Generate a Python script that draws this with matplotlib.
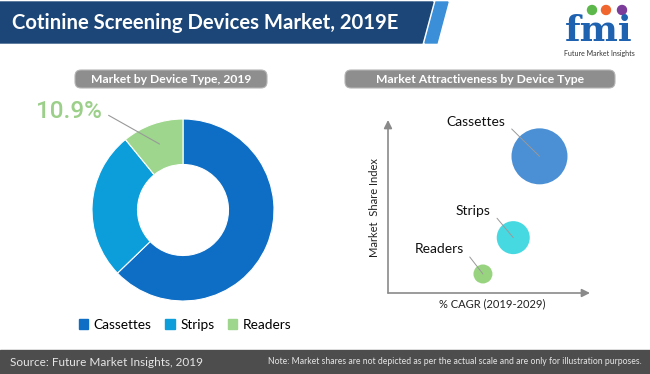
import matplotlib
matplotlib.use('Agg')
import matplotlib.pyplot as plt
from matplotlib.patches import Polygon, Rectangle, FancyBboxPatch, Circle
import numpy as np

# data
devices = ['Cassettes', 'Strips', 'Readers']
share_2019 = [62.8, 26.3, 10.9]
cagr_score = [7.5, 6.2, 4.7]      # relative position on % CAGR axis
share_index = [7.9, 3.2, 1.1]     # relative position on market share index axis
bubble_area = [1625, 565, 187]

pie_colors = ['#0e6ec5', '#0b9edb', '#9dd68c']
bubble_colors = ['#4b8fd5', '#47d9e2', '#98d480']

W, H = 650, 374
plt.rcParams['font.family'] = ['Lato', 'DejaVu Sans']

fig = plt.figure(figsize=(W / 100, H / 100), dpi=100)


def box(x0, y0, x1, y1):
    # pixel box (top-left origin) -> figure fraction rect
    return [x0 / W, 1 - y1 / H, (x1 - x0) / W, (y1 - y0) / H]


# background layer for header, pills and footer
bg = fig.add_axes([0, 0, 1, 1], zorder=0)
bg.set_xlim(0, W)
bg.set_ylim(H, 0)
bg.axis('off')

# header banner
bg.add_patch(Polygon([(0, 2), (433, 2), (422, 43), (0, 43)], color='#1b4677'))
bg.add_patch(Polygon([(436, 2), (448, 2), (437, 43), (425, 43)], color='#3a8fd8'))
bg.text(12, 23, 'Cotinine Screening Devices Market, 2019E', color='white',
        fontsize=14.6, fontweight='bold', va='center')

# logo
bg.text(599, 41, 'fmi', family='DejaVu Serif', weight='bold', fontsize=26,
        color='#1f62b0', ha='center', va='baseline')
for cx, c in [(592, '#5cb84a'), (606, '#f0662e'), (622, '#7b3c9a')]:
    bg.add_patch(Circle((cx, 10), 4.5, color=c))
bg.text(599, 53, 'Future Market Insights', fontsize=5, color='#333333',
        ha='center', va='center')

# section pills
bg.add_patch(FancyBboxPatch((75, 70), 192, 18, boxstyle='round,pad=0,rounding_size=6',
                            fc='#8e8e8e', ec='#b5b5b5', lw=0.8))
bg.text(171, 79, 'Market by Device Type, 2019', color='white', fontsize=8.7,
        fontweight='bold', ha='center', va='center')
bg.add_patch(FancyBboxPatch((345, 70), 270, 18, boxstyle='round,pad=0,rounding_size=6',
                            fc='#8e8e8e', ec='#b5b5b5', lw=0.8))
bg.text(480, 79, 'Market Attractiveness by Device Type', color='white', fontsize=8.7,
        fontweight='bold', ha='center', va='center')

# footer
bg.add_patch(Rectangle((0, 350), W, 24, color='#4d4d4d'))
bg.text(10, 362, 'Source: Future Market Insights, 2019', color='#e6e6e6',
        fontsize=8.5, va='center')
bg.text(642, 362, 'Note: Market shares are not depicted as per the actual scale and are only for illustration purposes.',
        color='#e6e6e6', fontsize=6.2, va='center', ha='right')

# donut
ax_pie = fig.add_axes(box(92, 119, 274, 301))
wedges, _ = ax_pie.pie(share_2019, colors=pie_colors, startangle=90, counterclock=False,
                       radius=1, wedgeprops=dict(width=0.5, edgecolor='white', linewidth=0.8))
ax_pie.set_xlim(-1, 1)
ax_pie.set_ylim(-1, 1)

w = wedges[2]
ang = np.deg2rad((w.theta1 + w.theta2) / 2)
ax_pie.annotate(f'{share_2019[2]}%', xy=(0.77 * np.cos(ang), 0.77 * np.sin(ang)),
                xytext=(-1.25, 1.08), ha='center', va='center', fontsize=17.5,
                color='#9ccf8a', family=['Roboto', 'DejaVu Sans'], fontweight='medium',
                arrowprops=dict(arrowstyle='-', color='#999999', lw=0.8,
                                relpos=(1, 0.5), shrinkA=3, shrinkB=0),
                annotation_clip=False)

handles = [Rectangle((0, 0), 1, 1, color=c) for c in pie_colors]
fig.legend(handles, devices, loc='center', bbox_to_anchor=(185 / W, 1 - 325 / H),
           ncol=3, frameon=False, fontsize=9.8, handlelength=0.7, handleheight=0.7,
           handletextpad=0.4, columnspacing=1.0)

# bubble chart
ax_b = fig.add_axes(box(388, 120, 590, 293))
ax_b.set_xlim(0, 10)
ax_b.set_ylim(0, 10)
ax_b.scatter(cagr_score, share_index, s=bubble_area, c=bubble_colors, zorder=3, linewidths=0)
for s in ax_b.spines.values():
    s.set_visible(False)
ax_b.set_xticks([])
ax_b.set_yticks([])
ax_b.patch.set_alpha(0)

arrow = dict(arrowstyle='-|>', color='#8a8a8a', lw=1.2, mutation_scale=12, shrinkA=0, shrinkB=0)
ax_b.annotate('', xy=(1, 0), xytext=(0, 0), xycoords='axes fraction', arrowprops=arrow)
ax_b.annotate('', xy=(0, 1), xytext=(0, 0), xycoords='axes fraction', arrowprops=arrow)

label_offsets = [(-64, 34), (-40, 27), (-44, 25)]
for name, x, y, off in zip(devices, cagr_score, share_index, label_offsets):
    ax_b.annotate(name, xy=(x, y), xytext=off, textcoords='offset pixels',
                  ha='center', va='center', fontsize=10, color='#111111', zorder=4,
                  arrowprops=dict(arrowstyle='-', color='#999999', lw=0.7,
                                  relpos=(1, 0.5), shrinkA=4, shrinkB=0))

bg.text(492, 304, '% CAGR (2019-2029)', fontsize=8, ha='center', va='center', color='#222222')
bg.text(374, 208, 'Market  Share Index', fontsize=8, rotation=90, ha='center',
        va='center', color='#222222')

fig.savefig('out.png', dpi=100)
